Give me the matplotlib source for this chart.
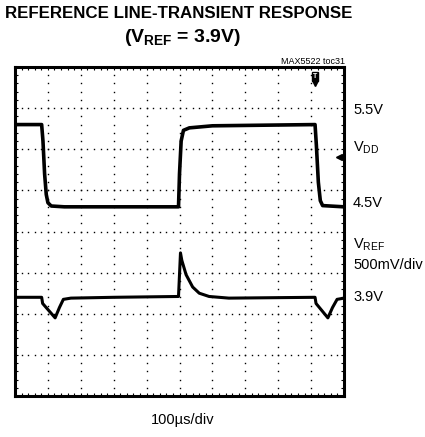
import numpy as np
import matplotlib
matplotlib.use("Agg")
import matplotlib.pyplot as plt

plt.rcParams["font.family"] = ["Liberation Sans", "DejaVu Sans"]

# scope settings
time_per_div = 100.0   # us/div
volts_per_div = 0.5    # V/div for both channels
vdd_ref_v, vdd_ref_div = 5.5, 6.6
vref_ref_v, vref_ref_div = 3.9, 2.4

# VDD trace (time in us, volts)
vdd_t = [0, 81, 85, 90, 95, 100, 110, 150, 497, 500, 505, 512, 530, 600, 912, 916, 922, 928, 935, 1000]
vdd_v = [5.5, 5.5, 5.3, 4.9, 4.65, 4.55, 4.51, 4.5, 4.5, 4.9, 5.3, 5.43, 5.46, 5.485, 5.5, 5.25, 4.8, 4.575, 4.515, 4.5]

# VREF trace
vref_t = [0, 81, 84, 122, 135, 147, 170, 300, 497, 503, 507, 520, 540, 560, 590, 650, 912, 915, 951, 965, 979, 1000]
vref_v = [3.9, 3.9, 3.825, 3.65, 3.775, 3.875, 3.89, 3.9, 3.91, 4.44, 4.35, 4.175, 4.025, 3.95, 3.91, 3.89, 3.9, 3.825, 3.65, 3.775, 3.875, 3.89]

def to_div(t, v, ref_v, ref_div):
    x = np.array(t) / time_per_div
    y = (np.array(v) - ref_v) / volts_per_div + ref_div
    return x, y

fig = plt.figure(figsize=(4.25, 4.37), dpi=100)
ax = fig.add_axes([15 / 425, 41 / 437, 329 / 425, 329 / 437])
ax.set_xlim(0, 10)
ax.set_ylim(0, 8)

# dotted graticule
for gx in range(1, 10):
    yy = np.arange(0, 8.01, 0.2)
    ax.plot(np.full_like(yy, gx), yy, ls="none", marker="s", ms=1.0, color="black", mew=0)
for gy in range(1, 8):
    xx = np.arange(0, 10.01, 0.2)
    ax.plot(xx, np.full_like(xx, gy), ls="none", marker="s", ms=1.0, color="black", mew=0)

x1, y1 = to_div(vdd_t, vdd_v, vdd_ref_v, vdd_ref_div)
x2, y2 = to_div(vref_t, vref_v, vref_ref_v, vref_ref_div)
ax.plot(x1, y1, color="black", lw=2.6, solid_joinstyle="round")
ax.plot(x2, y2, color="black", lw=2.2, solid_joinstyle="round")

# trigger markers
ax.plot([9.12], [7.62], marker="v", ms=4, color="black", clip_on=False)
ax.text(9.12, 7.78, "T", color="white", fontsize=5, fontweight="bold", ha="center", va="center",
        bbox=dict(boxstyle="square,pad=0.15", fc="black", ec="black"))
ax.plot([9.85], [5.8], marker="<", ms=4.5, color="black", clip_on=False)

ax.set_xticks(np.arange(0, 10.01, 1))
ax.set_yticks(np.arange(0, 8.01, 1))
ax.set_xticks(np.arange(0, 10.01, 0.2), minor=True)
ax.set_yticks(np.arange(0, 8.01, 0.2), minor=True)
ax.tick_params(which="both", direction="in", top=True, right=True, length=2, width=0.8,
               labelbottom=False, labelleft=False)
for s in ax.spines.values():
    s.set_linewidth(2.2)

# labels
fig.text(179 / 425, 1 - 13 / 437, "REFERENCE LINE-TRANSIENT RESPONSE", ha="center", va="center",
         fontsize=12.2, fontweight="bold")
fig.text(183 / 425, 1 - 37 / 437, r"($\mathregular{V_{REF}}$ = 3.9V)", ha="center", va="center",
         fontsize=14, fontweight="bold")
fig.text(345 / 425, 1 - 61 / 437, "MAX5522 toc31", ha="right", va="center", fontsize=6.5)

right = [(110, "5.5V"), (148, r"$\mathregular{V_{DD}}$"), (203, "4.5V"),
         (245, r"$\mathregular{V_{REF}}$"), (265, "500mV/div"), (297, "3.9V")]
for py, s in right:
    fig.text(353 / 425, 1 - py / 437, s, ha="left", va="center", fontsize=10.5)

fig.text(183 / 425, 1 - 420 / 437, "100µs/div", ha="center", va="center", fontsize=10.5)

fig.savefig("out.png", dpi=100)
